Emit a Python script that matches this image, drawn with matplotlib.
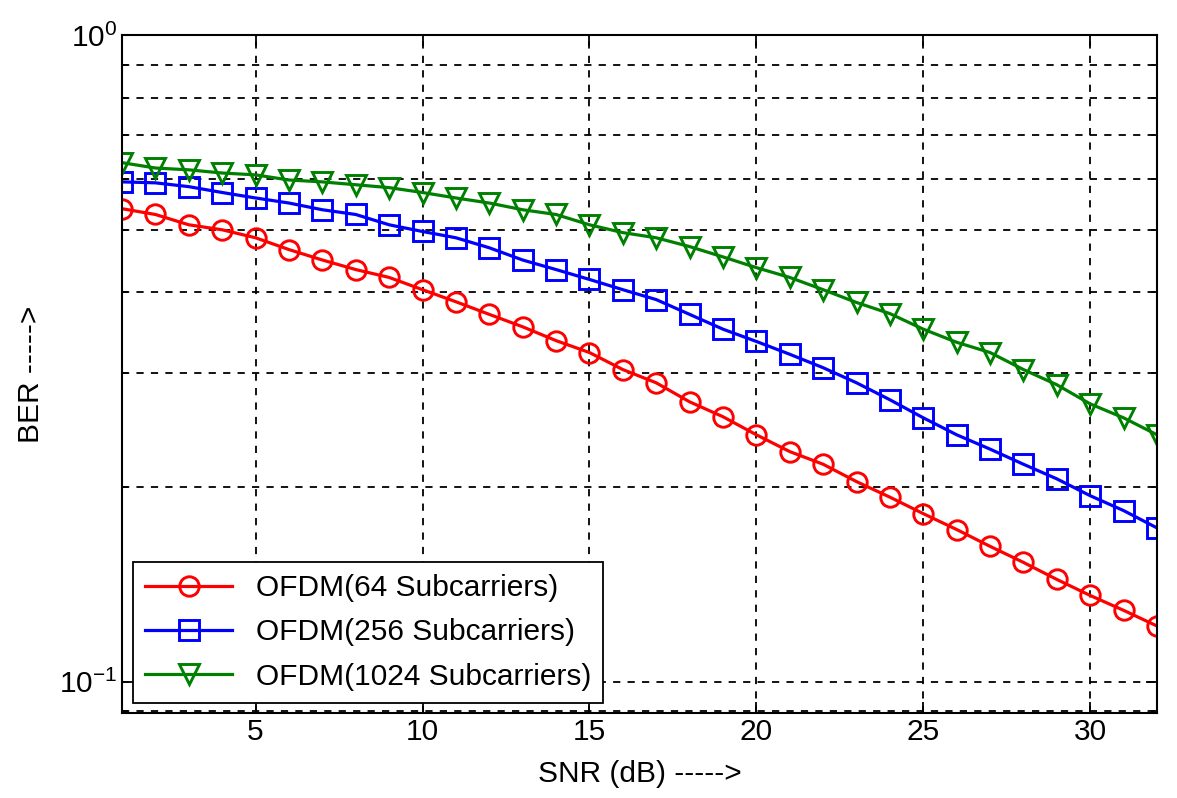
import numpy as np
import matplotlib
matplotlib.use("Agg")
import matplotlib.pyplot as plt
from matplotlib.ticker import LogLocator, NullFormatter

plt.rcParams['font.family'] = ['Liberation Sans', 'DejaVu Sans']

snr = list(range(1, 33))

ber_64 = [0.539, 0.528, 0.509, 0.500, 0.486, 0.466, 0.449, 0.434, 0.422, 0.404,
          0.387, 0.370, 0.354, 0.337, 0.323, 0.304, 0.290, 0.271, 0.257, 0.241,
          0.227, 0.217, 0.204, 0.193, 0.182, 0.172, 0.162, 0.153, 0.144, 0.136,
          0.129, 0.122]
ber_256 = [0.593, 0.591, 0.583, 0.571, 0.560, 0.550, 0.537, 0.528, 0.509, 0.497,
           0.486, 0.469, 0.449, 0.434, 0.419, 0.404, 0.390, 0.370, 0.351, 0.336,
           0.321, 0.306, 0.290, 0.273, 0.256, 0.241, 0.229, 0.217, 0.206, 0.194,
           0.184, 0.173]
ber_1024 = [0.635, 0.623, 0.619, 0.612, 0.608, 0.597, 0.593, 0.587, 0.581, 0.571,
            0.560, 0.550, 0.537, 0.528, 0.509, 0.495, 0.486, 0.471, 0.454, 0.437,
            0.422, 0.404, 0.386, 0.371, 0.351, 0.335, 0.323, 0.304, 0.288, 0.269,
            0.256, 0.241]

labels = ['OFDM(64 Subcarriers)', 'OFDM(256 Subcarriers)', 'OFDM(1024 Subcarriers)']

fig = plt.figure(figsize=(11.77, 7.98), dpi=100)
ax = fig.add_axes([0.1037, 0.1065, 0.8793, 0.8495])

style = dict(lw=2.3, ms=14, mew=2.1, mfc='none')
ax.plot(snr, ber_64, '-o', color='#ff0000', label=labels[0], **style)
ax.plot(snr, ber_256, '-s', color='#0000ff', label=labels[1], **style)
ax.plot(snr, ber_1024, '-v', color='#008000', label=labels[2], **style)

ax.set_yscale('log')
ax.set_xlim(1, 32)
ax.set_ylim(0.0895, 1.0)
ax.set_xticks([5, 10, 15, 20, 25, 30])
ax.yaxis.set_major_locator(LogLocator(base=10))
ax.yaxis.set_minor_locator(LogLocator(base=10, subs=np.arange(2, 10)))
ax.yaxis.set_minor_formatter(NullFormatter())

grid_kw = dict(color='black', linestyle=(0, (4, 4)), linewidth=1.3)
ax.grid(True, which='major', axis='both', **grid_kw)
ax.grid(True, which='minor', axis='y', **grid_kw)

ax.tick_params(which='both', direction='in', top=True, right=True,
               labelsize=21.5, width=1.3)
ax.tick_params(which='major', length=8)
ax.tick_params(which='minor', length=4)
for s in ax.spines.values():
    s.set_linewidth(1.5)

ax.set_xlabel('SNR (dB) ----->', fontsize=21.5, labelpad=10)
ax.set_ylabel('BER ----->', fontsize=21.5, labelpad=10)

leg = ax.legend(loc='lower left', bbox_to_anchor=(0.011, 0.015), borderaxespad=0,
                fontsize=21.5, fancybox=False, edgecolor='black', framealpha=1,
                handlelength=2.9, labelspacing=0.55, borderpad=0.4)
leg.get_frame().set_linewidth(1.3)

fig.savefig('out.png', dpi=100)
